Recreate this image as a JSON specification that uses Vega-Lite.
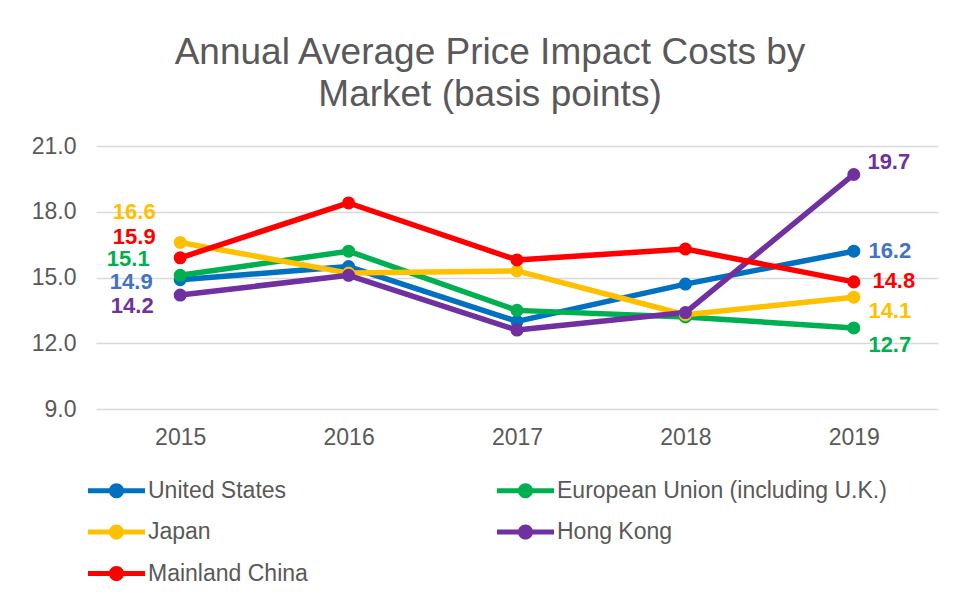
{
  "$schema": "https://vega.github.io/schema/vega-lite/v6.json",
  "width": 842,
  "height": 263,
  "autosize": "none",
  "padding": {"left": 96, "top": 146, "right": 18, "bottom": 193},
  "title": {
    "text": ["Annual Average Price Impact Costs by", "Market (basis points)"],
    "fontSize": 37,
    "font": "Liberation Sans",
    "fontWeight": "normal",
    "color": "#595959",
    "anchor": "middle",
    "dx": -27,
    "lineHeight": 42,
    "offset": 21
  },
  "config": {
    "view": {"stroke": null},
    "font": "Liberation Sans"
  },
  "data": {
    "values": [
      {"series": "United States", "year": "2015", "value": 14.9},
      {"series": "United States", "year": "2016", "value": 15.5},
      {"series": "United States", "year": "2017", "value": 13.0},
      {"series": "United States", "year": "2018", "value": 14.7},
      {"series": "United States", "year": "2019", "value": 16.2},
      {"series": "European Union (including U.K.)", "year": "2015", "value": 15.1},
      {"series": "European Union (including U.K.)", "year": "2016", "value": 16.2},
      {"series": "European Union (including U.K.)", "year": "2017", "value": 13.5},
      {"series": "European Union (including U.K.)", "year": "2018", "value": 13.2},
      {"series": "European Union (including U.K.)", "year": "2019", "value": 12.7},
      {"series": "Japan", "year": "2015", "value": 16.6},
      {"series": "Japan", "year": "2016", "value": 15.2},
      {"series": "Japan", "year": "2017", "value": 15.3},
      {"series": "Japan", "year": "2018", "value": 13.3},
      {"series": "Japan", "year": "2019", "value": 14.1},
      {"series": "Hong Kong", "year": "2015", "value": 14.2},
      {"series": "Hong Kong", "year": "2016", "value": 15.1},
      {"series": "Hong Kong", "year": "2017", "value": 12.6},
      {"series": "Hong Kong", "year": "2018", "value": 13.4},
      {"series": "Hong Kong", "year": "2019", "value": 19.7},
      {"series": "Mainland China", "year": "2015", "value": 15.9},
      {"series": "Mainland China", "year": "2016", "value": 18.4},
      {"series": "Mainland China", "year": "2017", "value": 15.8},
      {"series": "Mainland China", "year": "2018", "value": 16.3},
      {"series": "Mainland China", "year": "2019", "value": 14.8}
    ]
  },
  "encoding": {
    "x": {
      "field": "year",
      "type": "ordinal",
      "scale": {"type": "point", "padding": 0.5},
      "axis": {
        "title": null,
        "labelAngle": 0,
        "domain": false,
        "ticks": false,
        "grid": false,
        "labelPadding": 17,
        "labelFontSize": 23,
        "labelColor": "#595959",
        "labelFont": "Liberation Sans"
      }
    },
    "y": {
      "field": "value",
      "type": "quantitative",
      "scale": {"domain": [9, 21], "nice": false, "zero": false},
      "axis": {
        "title": null,
        "values": [9, 12, 15, 18, 21],
        "format": ".1f",
        "domain": false,
        "ticks": false,
        "labelPadding": 20,
        "labelFontSize": 23,
        "labelColor": "#595959",
        "labelFont": "Liberation Sans",
        "gridColor": "#D9D9D9",
        "gridWidth": 1.3
      }
    }
  },
  "layer": [
    {
      "mark": {"type": "line", "strokeWidth": 5.5, "strokeCap": "round", "strokeJoin": "round"},
      "encoding": {
        "stroke": {
          "field": "series",
          "type": "nominal",
          "scale": {
            "domain": ["United States", "European Union (including U.K.)", "Japan", "Hong Kong", "Mainland China"],
            "range": ["#0070C0", "#00B050", "#FFC000", "#7030A0", "#FF0000"]
          },
          "legend": {
            "title": null,
            "orient": "none",
            "direction": "horizontal",
            "legendX": 6,
            "legendY": 330,
            "columns": 2,
            "columnPadding": 189,
            "rowPadding": 14.5,
            "padding": 0,
            "symbolType": "M-2,-0.18L2,-0.18L2,0.18L-2,0.18ZM0.53,0A0.53,0.53,0,1,1,-0.53,0A0.53,0.53,0,1,1,0.53,0Z",
            "symbolSize": 812,
            "symbolStrokeWidth": 0,
            "symbolOpacity": 1,
            "labelFontSize": 23,
            "labelColor": "#595959",
            "labelFont": "Liberation Sans",
            "labelOffset": 17,
            "labelLimit": 400
          }
        }
      }
    },
    {
      "mark": {"type": "point", "filled": true, "size": 170, "opacity": 1},
      "encoding": {
        "fill": {
          "field": "series",
          "type": "nominal",
          "scale": {
            "domain": ["United States", "European Union (including U.K.)", "Japan", "Hong Kong", "Mainland China"],
            "range": ["#0070C0", "#00B050", "#FFC000", "#7030A0", "#FF0000"]
          },
          "legend": {
            "title": null,
            "orient": "none",
            "direction": "horizontal",
            "legendX": 6,
            "legendY": 330,
            "columns": 2,
            "columnPadding": 189,
            "rowPadding": 14.5,
            "padding": 0,
            "symbolType": "M-2,-0.18L2,-0.18L2,0.18L-2,0.18ZM0.53,0A0.53,0.53,0,1,1,-0.53,0A0.53,0.53,0,1,1,0.53,0Z",
            "symbolSize": 812,
            "symbolStrokeWidth": 0,
            "symbolOpacity": 1,
            "labelFontSize": 23,
            "labelColor": "#595959",
            "labelFont": "Liberation Sans",
            "labelOffset": 17,
            "labelLimit": 400
          }
        }
      }
    },
    {
      "transform": [{"filter": "datum.series === 'Japan' && datum.year === '2015'"}],
      "mark": {"type": "text", "dx": -46, "dy": -30, "fontSize": 22, "fontWeight": "bold", "color": "#FFC000"},
      "encoding": {"text": {"field": "value", "type": "quantitative", "format": ".1f"}}
    },
    {
      "transform": [{"filter": "datum.series === 'Mainland China' && datum.year === '2015'"}],
      "mark": {"type": "text", "dx": -46, "dy": -21, "fontSize": 22, "fontWeight": "bold", "color": "#FF0000"},
      "encoding": {"text": {"field": "value", "type": "quantitative", "format": ".1f"}}
    },
    {
      "transform": [{"filter": "datum.series === 'European Union (including U.K.)' && datum.year === '2015'"}],
      "mark": {"type": "text", "dx": -52, "dy": -16, "fontSize": 22, "fontWeight": "bold", "color": "#00B050"},
      "encoding": {"text": {"field": "value", "type": "quantitative", "format": ".1f"}}
    },
    {
      "transform": [{"filter": "datum.series === 'United States' && datum.year === '2015'"}],
      "mark": {"type": "text", "dx": -49, "dy": 2, "fontSize": 22, "fontWeight": "bold", "color": "#4472C4"},
      "encoding": {"text": {"field": "value", "type": "quantitative", "format": ".1f"}}
    },
    {
      "transform": [{"filter": "datum.series === 'Hong Kong' && datum.year === '2015'"}],
      "mark": {"type": "text", "dx": -48, "dy": 11, "fontSize": 22, "fontWeight": "bold", "color": "#7030A0"},
      "encoding": {"text": {"field": "value", "type": "quantitative", "format": ".1f"}}
    },
    {
      "transform": [{"filter": "datum.series === 'Hong Kong' && datum.year === '2019'"}],
      "mark": {"type": "text", "dx": 35, "dy": -12, "fontSize": 22, "fontWeight": "bold", "color": "#7030A0"},
      "encoding": {"text": {"field": "value", "type": "quantitative", "format": ".1f"}}
    },
    {
      "transform": [{"filter": "datum.series === 'United States' && datum.year === '2019'"}],
      "mark": {"type": "text", "dx": 36, "dy": 0, "fontSize": 22, "fontWeight": "bold", "color": "#4472C4"},
      "encoding": {"text": {"field": "value", "type": "quantitative", "format": ".1f"}}
    },
    {
      "transform": [{"filter": "datum.series === 'Mainland China' && datum.year === '2019'"}],
      "mark": {"type": "text", "dx": 40, "dy": -1, "fontSize": 22, "fontWeight": "bold", "color": "#FF0000"},
      "encoding": {"text": {"field": "value", "type": "quantitative", "format": ".1f"}}
    },
    {
      "transform": [{"filter": "datum.series === 'Japan' && datum.year === '2019'"}],
      "mark": {"type": "text", "dx": 36, "dy": 14, "fontSize": 22, "fontWeight": "bold", "color": "#FFC000"},
      "encoding": {"text": {"field": "value", "type": "quantitative", "format": ".1f"}}
    },
    {
      "transform": [{"filter": "datum.series === 'European Union (including U.K.)' && datum.year === '2019'"}],
      "mark": {"type": "text", "dx": 36, "dy": 17, "fontSize": 22, "fontWeight": "bold", "color": "#00B050"},
      "encoding": {"text": {"field": "value", "type": "quantitative", "format": ".1f"}}
    }
  ]
}
